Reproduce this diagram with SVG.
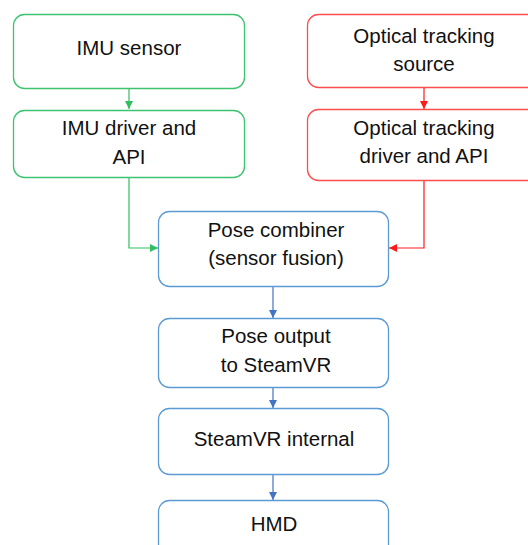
<svg xmlns="http://www.w3.org/2000/svg" width="528" height="545" viewBox="0 0 528 545">
<style>
text{font-family:"Liberation Sans",Arial,sans-serif;font-size:20.5px;fill:#111;text-anchor:middle}
.g{fill:#fff;stroke:#3cc46e;stroke-width:1.3}
.r{fill:#fff;stroke:#ff4d4d;stroke-width:1.3}
.b{fill:#fff;stroke:#5b9bd5;stroke-width:1.3}
.cg{fill:none;stroke:#2fbf5f;stroke-width:1.2}
.cr{fill:none;stroke:#ff1a1a;stroke-width:1.2}
.cb{fill:none;stroke:#4472c4;stroke-width:1.2}
</style>
<defs>
<marker id="ag" markerWidth="10" markerHeight="10" refX="8" refY="5" orient="auto" markerUnits="userSpaceOnUse"><path d="M0,1 L8,5 L0,9 Z" fill="#2fbf5f"/></marker>
<marker id="ar" markerWidth="10" markerHeight="10" refX="8" refY="5" orient="auto" markerUnits="userSpaceOnUse"><path d="M0,1 L8,5 L0,9 Z" fill="#ff1a1a"/></marker>
<marker id="ab" markerWidth="10" markerHeight="10" refX="8" refY="5" orient="auto" markerUnits="userSpaceOnUse"><path d="M0,1 L8,5 L0,9 Z" fill="#4472c4"/></marker>
</defs>
<rect width="528" height="545" fill="#fff"/>
<g id="connectors">
<path class="cg" d="M129,88 V109" marker-end="url(#ag)"/>
<path class="cg" d="M129,177 V248 H158" marker-end="url(#ag)"/>
<path class="cr" d="M424,87 V109" marker-end="url(#ar)"/>
<path class="cr" d="M424,180 V248 H389" marker-end="url(#ar)"/>
<path class="cb" d="M273,286 V318" marker-end="url(#ab)"/>
<path class="cb" d="M273,387 V408" marker-end="url(#ab)"/>
<path class="cb" d="M273,474 V500" marker-end="url(#ab)"/>
</g>
<g id="imu-sensor">
<rect class="g" x="13.5" y="14.5" width="231" height="74" rx="11"/>
<text x="129" y="55">IMU sensor</text>
</g>
<g id="imu-driver">
<rect class="g" x="13.5" y="110.5" width="231" height="67" rx="11"/>
<text x="129" y="135">IMU driver and</text>
<text x="129" y="164">API</text>
</g>
<g id="optical-source">
<rect class="r" x="307.5" y="14.5" width="234" height="73" rx="11"/>
<text x="424" y="43">Optical tracking</text>
<text x="424" y="71">source</text>
</g>
<g id="optical-driver">
<rect class="r" x="307.5" y="109.5" width="234" height="71" rx="11"/>
<text x="424" y="135">Optical tracking</text>
<text x="424" y="163">driver and API</text>
</g>
<g id="pose-combiner">
<rect class="b" x="158.5" y="211.5" width="230" height="75" rx="11"/>
<text x="276" y="237">Pose combiner</text>
<text x="276" y="265">(sensor fusion)</text>
</g>
<g id="pose-output">
<rect class="b" x="158.5" y="318.5" width="230" height="69" rx="11"/>
<text x="276" y="343">Pose output</text>
<text x="276" y="372">to SteamVR</text>
</g>
<g id="steamvr-internal">
<rect class="b" x="158.5" y="408.5" width="230" height="66" rx="11"/>
<text x="274" y="446">SteamVR internal</text>
</g>
<g id="hmd">
<rect class="b" x="158.5" y="500.5" width="230" height="70" rx="11"/>
<text x="274" y="531">HMD</text>
</g>
</svg>
